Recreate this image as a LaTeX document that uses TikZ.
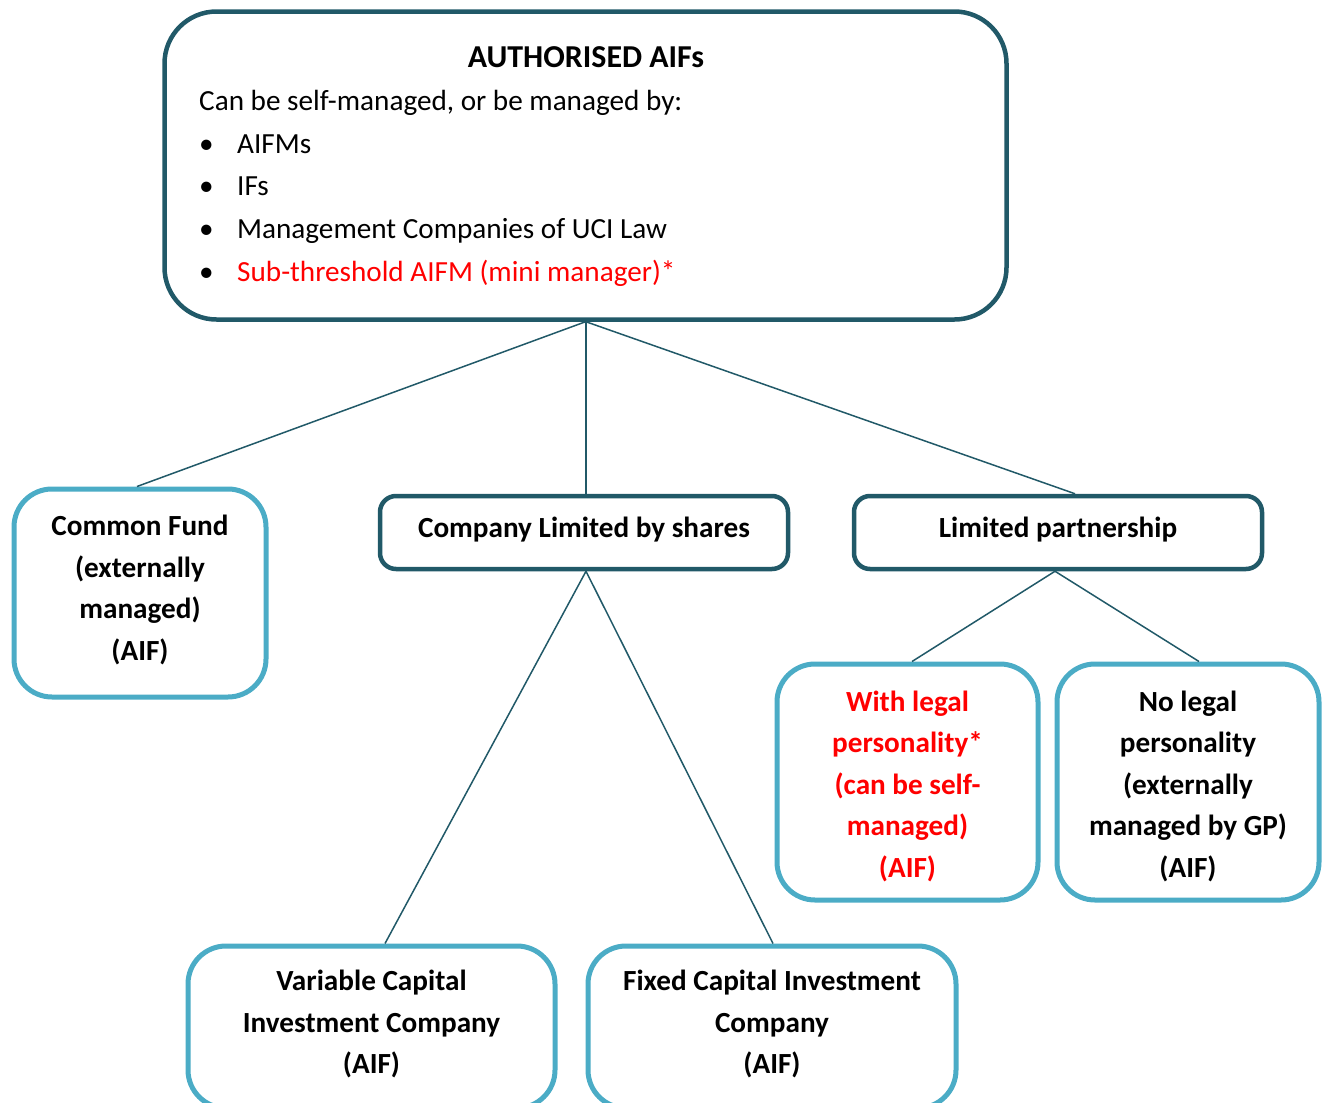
\documentclass[tikz,border=0pt]{standalone}
\usepackage{fontspec}
\setmainfont{Carlito}
\definecolor{darkteal}{HTML}{215968}
\definecolor{lightblue}{HTML}{4BACC6}
\definecolor{redtxt}{HTML}{FF0000}
\begin{document}
\begin{tikzpicture}[x=1pt,y=-1pt,
  darkbox/.style={draw=darkteal,line width=4.5pt,rectangle,fill=white,inner sep=0pt},
  lightbox/.style={draw=lightblue,line width=5pt,rectangle,fill=white,inner sep=0pt,rounded corners=38pt},
  boxtext/.style={font=\fontsize{29.2}{41.5}\selectfont\bfseries,align=center},
  linetext/.style={font=\fontsize{29.2}{34}\selectfont,anchor=base west,inner sep=0pt},
  conn/.style={draw=darkteal,line width=1.5pt}]
\useasboundingbox (0,0) rectangle (1331,1103);
% top box
\node[darkbox,rounded corners=52pt,minimum width=842pt,minimum height=308pt] (top) at (585.5,165.5) {};
\node[linetext,font=\fontsize{31.9}{36}\selectfont\bfseries,anchor=base] (title) at (586,67) {AUTHORISED AIFs};
\node[linetext] (l1) at (199,110) {Can be self-managed, or be managed by:};
\node[linetext] (b1) at (199,153) {\textbullet};
\node[linetext] (t1) at (237,153) {AIFMs};
\node[linetext] (b2) at (199,195) {\textbullet};
\node[linetext] (t2) at (237,195) {IFs};
\node[linetext] (b3) at (199,238) {\textbullet};
\node[linetext] (t3) at (237,238) {Management Companies of UCI Law};
\node[linetext] (b4) at (199,281) {\textbullet};
\node[linetext,text=redtxt] (t4) at (237,281) {Sub-threshold AIFM (mini manager)*};
% second level
\node[lightbox,minimum width=252pt,minimum height=208pt] (cf) at (140,593) {};
\node[boxtext] (cft) at (140,590) {Common Fund\\(externally\\managed)\\(AIF)};
\node[darkbox,rounded corners=16pt,minimum width=408pt,minimum height=73pt] (cls) at (584,532.5) {};
\node[boxtext] (clst) at (584,530) {Company Limited by shares};
\node[darkbox,rounded corners=16pt,minimum width=408pt,minimum height=73pt] (lp) at (1058,532.5) {};
\node[boxtext] (lpt) at (1058,530) {Limited partnership};
% third level
\node[lightbox,minimum width=261pt,minimum height=236pt] (wlp) at (907.5,782) {};
\node[boxtext,text=redtxt] (wlpt) at (907.5,786) {With legal\\personality*\\(can be self-\\managed)\\(AIF)};
\node[lightbox,minimum width=262pt,minimum height=236pt] (nlp) at (1188,782) {};
\node[boxtext] (nlpt) at (1188,786) {No legal\\personality\\(externally\\managed by GP)\\(AIF)};
\node[lightbox,minimum width=367pt,minimum height=162pt] (vcic) at (371.5,1027) {};
\node[boxtext] (vcict) at (371.5,1024) {Variable Capital\\Investment Company\\(AIF)};
\node[lightbox,minimum width=368pt,minimum height=162pt] (fcic) at (772,1027) {};
\node[boxtext] (fcict) at (772,1024) {Fixed Capital Investment\\Company\\(AIF)};
% connectors
\draw[conn] (top.south) -- ([xshift=-3pt]cf.north);
\draw[conn] ([xshift=0.5pt]top.south) -- ([xshift=2pt]cls.north);
\draw[conn] ([xshift=0.5pt]top.south) -- ([xshift=17pt]lp.north);
\draw[conn] ([xshift=2pt]cls.south) -- ([xshift=13.5pt]vcic.north);
\draw[conn] ([xshift=2pt]cls.south) -- ([xshift=1pt]fcic.north);
\draw[conn] ([xshift=-3pt]lp.south) -- ([xshift=4.5pt]wlp.north);
\draw[conn] ([xshift=-3pt]lp.south) -- ([xshift=11pt]nlp.north);
\end{tikzpicture}
\end{document}
